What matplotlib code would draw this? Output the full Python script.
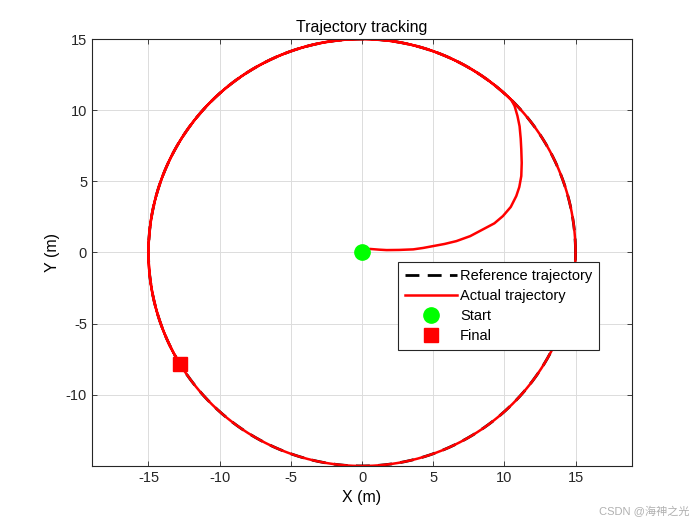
import numpy as np
import matplotlib
matplotlib.use("Agg")
import matplotlib.pyplot as plt

plt.rcParams['font.family'] = ['Liberation Sans', 'Noto Sans CJK SC', 'DejaVu Sans']
plt.rcParams['axes.unicode_minus'] = False

# reference circle
ref_radius = 15.0
ref_center = (0.0, 0.0)

# approach part of the actual trajectory
approach_x = [0.0, 0.56, 1.2, 1.73, 2.6, 3.6, 4.3, 5.0, 5.8, 6.63, 7.6, 8.5, 9.3, 9.9,
              10.45, 10.84, 11.05, 11.19, 11.22, 11.19, 11.15, 11.07, 10.92, 10.72, 10.5, 10.25]
approach_y = [0.0, 0.25, 0.2, 0.17, 0.18, 0.22, 0.32, 0.45, 0.6, 0.8, 1.15, 1.63, 2.05, 2.56,
              3.2, 3.97, 4.6, 5.37, 6.3, 7.24, 8.0, 8.87, 9.6, 10.29, 10.7, 10.95]
# after joining, it runs along the circle (angles in degrees)
join_angle = 46.9
final_angle = 360 + 211.4

start_pt = (0.0, 0.0)
final_pt = (-12.78, -7.8)

theta = np.linspace(0, 2 * np.pi, 400)
ref_x = ref_center[0] + ref_radius * np.cos(theta)
ref_y = ref_center[1] + ref_radius * np.sin(theta)

arc = np.deg2rad(np.linspace(join_angle, final_angle, 600))
act_x = np.concatenate([approach_x, ref_radius * np.cos(arc)])
act_y = np.concatenate([approach_y, ref_radius * np.sin(arc)])

fig = plt.figure(figsize=(7, 5.25), dpi=100)
ax = fig.add_axes([0.1314, 0.1124, 0.7715, 0.8133])

ax.plot(ref_x, ref_y, '--', color='black', lw=2, dashes=(5, 3), label='Reference trajectory')
ax.plot(act_x, act_y, '-', color='red', lw=1.8, label='Actual trajectory')
ax.plot(*start_pt, 'o', color='#00ff00', ms=11, label='Start')
ax.plot(*final_pt, 's', color='red', ms=9.5, label='Final')

ax.set_xlim(-18.97, 18.97)
ax.set_ylim(-15, 15)
ax.set_xticks([-15, -10, -5, 0, 5, 10, 15])
ax.set_yticks([-10, -5, 0, 5, 10, 15])
ax.tick_params(direction='in', top=True, right=True, labelsize=10.5, length=3.5, width=0.6,
               colors='#262626')
ax.grid(True, color='#dcdcdc', lw=0.7)
ax.set_axisbelow(True)
for s in ax.spines.values():
    s.set_linewidth(0.8)
    s.set_color('#262626')

ax.set_title('Trajectory tracking', fontsize=11.5, pad=5)
ax.set_xlabel('X (m)', fontsize=11.5)
ax.set_ylabel('Y (m)', fontsize=11.5)

leg = ax.legend(loc='lower left', bbox_to_anchor=(0.567, 0.272), fontsize=10.5,
                fancybox=False, framealpha=1, edgecolor='#262626', handlelength=3.6,
                borderpad=0.45, labelspacing=0.42, handletextpad=0.2, borderaxespad=0)
leg.get_frame().set_linewidth(0.8)

fig.text(0.985, 0.015, 'CSDN @海神之光', ha='right', va='bottom', fontsize=8, color='#b0b0b0')

fig.savefig('out.png', dpi=100)
